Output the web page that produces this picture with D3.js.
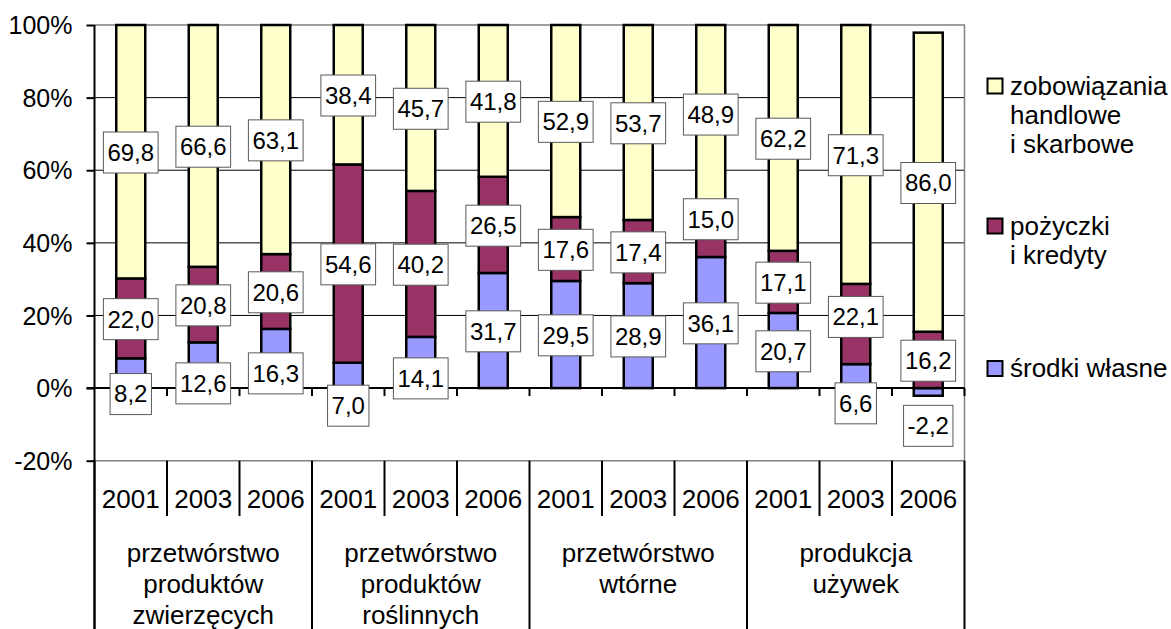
<!DOCTYPE html>
<html><head><meta charset="utf-8">
<script src="https://cdn.jsdelivr.net/npm/d3@7/dist/d3.min.js"></script>
<style>
body{margin:0;background:#fff}
text{font-family:"Liberation Sans",Arial,sans-serif;fill:#000}
</style>
</head><body>
<svg id="chart" width="1171" height="629"></svg>
<script>
// ---------------- data ----------------
const groups = [
  ["przetwórstwo","produktów","zwierzęcych"],
  ["przetwórstwo","produktów","roślinnych"],
  ["przetwórstwo","wtórne"],
  ["produkcja","używek"]
];
const years = ["2001","2003","2006"];
const seriesNames = [
  ["zobowiązania","handlowe","i skarbowe"],
  ["pożyczki","i kredyty"],
  ["środki własne"]
];
const ownFunds = [8.2,12.6,16.3, 7.0,14.1,31.7, 29.5,28.9,36.1, 20.7,6.6,-2.2];
const loans    = [22.0,20.8,20.6, 54.6,40.2,26.5, 17.6,17.4,15.0, 17.1,22.1,16.2];
const payables = [69.8,66.6,63.1, 38.4,45.7,41.8, 52.9,53.7,48.9, 62.2,71.3,86.0];
const yTicks = [-20,0,20,40,60,80,100];
// label anchors (axis %) for labels that were moved away from the segment centre
const ownLabelAt      = [-1.65,1.3,4.05,-4.85,2.67,null,null,null,null,null,-4.2,-10.4];
const loansLabelAt    = [null,null,null,null,null,null,null,null,46.5,null,19.6,null];
const payablesLabelAt = [null,null,null,null,null,null,null,null,null,null,null,null];
const colors = ["#FFFFCC","#993366","#9999FF"]; // payables, loans, own funds

// ---------------- layout ----------------
const svg = d3.select("#chart");
const L = 94.5, R = 964.5, T = 25, B = 460.7;
const cats = [];
groups.forEach((g,gi)=>years.forEach(y=>cats.push(gi+"-"+y)));

const x = d3.scaleBand().domain(cats).range([L,R]).paddingInner(0.6).paddingOuter(0.3);
const step = (R-L)/cats.length;
const y = d3.scaleLinear().domain([-20,100]).range([B,T]);

// stacking (100% stacked, normalised by sum of absolute values, as in Excel)
const seriesVals = [ownFunds, loans, payables];
const labelAt = [ownLabelAt, loansLabelAt, payablesLabelAt];
const segs = [];
cats.forEach((c,i)=>{
  const tot = seriesVals.reduce((s,a)=>s+Math.abs(a[i]),0);
  let pos=0, neg=0;
  seriesVals.forEach((arr,si)=>{
    const v = arr[i]/tot*100;
    let y0,y1;
    if(v>=0){y0=pos;y1=pos+v;pos=y1;} else {y0=neg;y1=neg+v;neg=y1;}
    segs.push({cat:c,i,si,y0,y1,val:arr[i],lab:labelAt[si][i]});
  });
});

// gridlines
svg.append("g").selectAll("line").data(yTicks.filter(t=>t>0 && t<100)).join("line")
  .attr("x1",L).attr("x2",R).attr("y1",d=>y(d)).attr("y2",d=>y(d))
  .attr("stroke","#000").attr("stroke-width",1);
// plot border (gray)
svg.append("path").attr("d",`M${L},${y(100)}H${R}V${y(-20)}H${L}`)
  .attr("fill","none").attr("stroke","#808080").attr("stroke-width",1.5);

// bars
const segColor = si => si===0?colors[2]:si===1?colors[1]:colors[0];
svg.append("g").selectAll("rect").data(segs).join("rect")
  .attr("x",d=>x(d.cat)).attr("width",x.bandwidth())
  .attr("y",d=>y(Math.max(d.y0,d.y1))).attr("height",d=>Math.abs(y(d.y0)-y(d.y1)))
  .attr("fill",d=>segColor(d.si)).attr("stroke","#000").attr("stroke-width",2.5);

// zero axis with ticks
svg.append("line").attr("x1",L-8).attr("x2",R).attr("y1",y(0)).attr("y2",y(0))
  .attr("stroke","#000").attr("stroke-width",2);
const bounds = d3.range(cats.length+1).map(k=>L+k*step);
svg.append("g").selectAll("line").data(bounds.slice(1)).join("line")
  .attr("x1",d=>d).attr("x2",d=>d).attr("y1",y(0)).attr("y2",y(0)+8)
  .attr("stroke","#000").attr("stroke-width",2);

// y axis
const yAxis = d3.axisLeft(y).tickValues(yTicks).tickSize(8).tickFormat(d=>d+"%");
const ya = svg.append("g").attr("transform",`translate(${L},0)`).call(yAxis);
ya.select(".domain").remove();
ya.selectAll(".tick line").attr("stroke","#000").attr("stroke-width",2);
ya.selectAll(".tick text").attr("x",-22).attr("dy","0.35em")
  .style("font-size","25px").style("font-family","'Liberation Sans',Arial,sans-serif").attr("fill","#000");
svg.append("line").attr("x1",L).attr("x2",L).attr("y1",T).attr("y2",629)
  .attr("stroke","#000").attr("stroke-width",2);

// category axis (multi-level)
svg.append("g").selectAll("line").data(bounds).join("line")
  .attr("x1",d=>d).attr("x2",d=>d)
  .attr("y1",B)
  .attr("y2",(d,k)=> k%3===0 ? 629 : 516)
  .attr("stroke","#000").attr("stroke-width",2);
svg.append("g").selectAll("text").data(cats).join("text")
  .attr("x",d=>x(d)+x.bandwidth()/2).attr("y",508)
  .attr("text-anchor","middle").style("font-size","26px")
  .text(d=>d.split("-")[1]);
groups.forEach((g,gi)=>{
  const cx = L + (gi*3+1.5)*step;
  svg.append("text").attr("text-anchor","middle").style("font-size","26px")
    .selectAll("tspan").data(g).join("tspan")
    .attr("x",cx).attr("y",(d,k)=>562+k*31).text(d=>d);
});

// data labels
const fmt = v => d3.format(".1f")(v).replace(".",",").replace("\u2212","-");
const lg = svg.append("g").selectAll("g").data(segs).join("g")
  .attr("transform",d=>{
    const cy = d.lab!=null ? y(d.lab) : y((d.y0+d.y1)/2)+0.8;
    return `translate(${x(d.cat)+x.bandwidth()/2},${cy})`;
  });
lg.append("rect");
lg.append("text").attr("text-anchor","middle").attr("dy","0.35em")
  .style("font-size","24px").text(d=>fmt(d.val));
lg.each(function(){
  const g = d3.select(this);
  const w = g.select("text").node().getComputedTextLength()+8;
  g.select("rect").attr("x",-w/2).attr("y",-20.5).attr("width",w).attr("height",41)
    .attr("fill","#fff").attr("stroke","#5a5a5a").attr("stroke-width",1);
});

// legend
const legY = [86,226,368.5];
const legColor = [colors[0],colors[1],colors[2]];
seriesNames.forEach((lines,k)=>{
  svg.append("rect").attr("x",987.5).attr("y",legY[k]-7.5).attr("width",15).attr("height",15)
    .attr("fill",legColor[k]).attr("stroke","#000").attr("stroke-width",2);
  svg.append("text").style("font-size","26px")
    .selectAll("tspan").data(lines).join("tspan")
    .attr("x",1010).attr("y",(d,j)=>legY[k]+8.5+j*29).text(d=>d);
});
</script>
</body></html>
